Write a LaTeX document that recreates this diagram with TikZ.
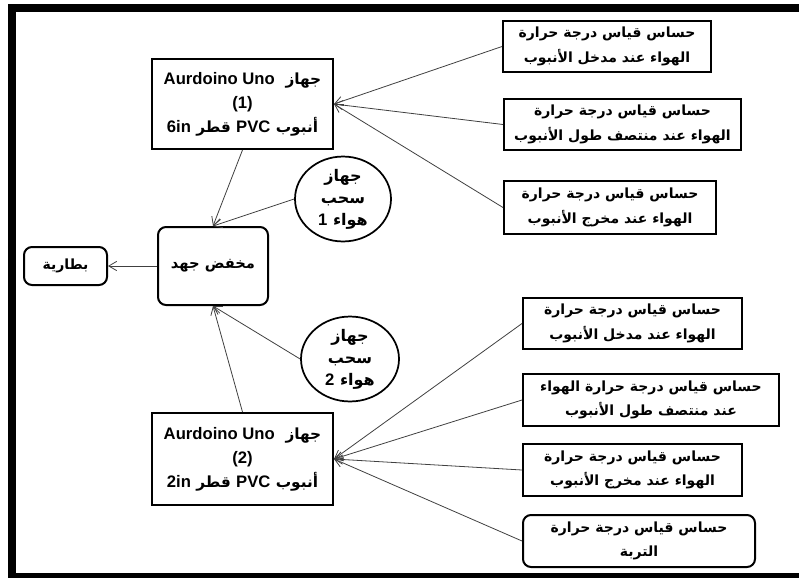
\documentclass[tikz,border=0pt]{standalone}
\usepackage{fontspec}
\setmainfont{Liberation Sans}
\newfontfamily\arabicfont[Script=Arabic]{DejaVu Sans}
\TeXXeTstate=1
\usetikzlibrary{arrows.meta,shapes.geometric}
\newcommand{\arln}[1]{{\arabicfont\bfseries\beginR #1\endR}}
\newcommand{\ltn}[1]{\beginL{\rmfamily\bfseries #1}\endL{}}
\newcommand{\ltbig}[1]{\beginL{\rmfamily\bfseries\fontsize{12.5}{18}\selectfont #1}\endL{}}
\begin{document}
\begin{tikzpicture}[x=0.75pt,y=-0.75pt,
  box/.style={draw=black,line width=1.5pt,align=center,inner sep=0pt,
    font=\fontsize{10.5}{18.5}\selectfont},
  rbox/.style={box,rounded corners=6pt},
  ardbox/.style={box,font=\fontsize{11.5}{18}\selectfont},
  oval/.style={draw=black,line width=1.3pt,ellipse,align=center,inner sep=0pt,
    font=\fontsize{12}{16.5}\selectfont},
  conn/.style={draw=black!75,line width=0.6pt,-{Straight Barb[length=6pt,width=7pt]}},
  frame/.style={fill=black,draw=none}]
\useasboundingbox (0,0) rectangle (799,578);
% outer frame
\fill[frame] (8,4) rectangle (799,12);
\fill[frame] (8,4) rectangle (16,578);
\fill[frame] (8,573) rectangle (799,578);

% Arduino boxes
\node[ardbox,minimum width=181*0.75pt,minimum height=90*0.75pt] (ard1) at (242.5,104)
  {\arln{جهاز \ \ltbig{Aurdoino Uno}}\\ {\bfseries\fontsize{12.5}{18}\selectfont (1)}\\ \arln{أنبوب \ltbig{PVC} قطر \ltbig{6in}}};
\node[ardbox,minimum width=181*0.75pt,minimum height=92*0.75pt] (ard2) at (242.5,459)
  {\arln{جهاز \ \ltbig{Aurdoino Uno}}\\ {\bfseries\fontsize{12.5}{18}\selectfont (2)}\\ \arln{أنبوب \ltbig{PVC} قطر \ltbig{2in}}};

% top sensors
\node[box,minimum width=208*0.75pt,minimum height=51*0.75pt] (s1) at (607,46.5)
  {\arln{حساس قياس درجة حرارة}\\ \arln{الهواء عند مدخل الأنبوب}};
\node[box,minimum width=237*0.75pt,minimum height=51*0.75pt] (s2) at (622.5,124.5)
  {\arln{حساس قياس درجة حرارة}\\ \arln{الهواء عند منتصف طول الأنبوب}};
\node[box,minimum width=212*0.75pt,minimum height=53*0.75pt] (s3) at (610,207.5)
  {\arln{حساس قياس درجة حرارة}\\ \arln{الهواء عند مخرج الأنبوب}};

% bottom sensors
\node[box,minimum width=219*0.75pt,minimum height=51*0.75pt] (b1) at (632.5,323.5)
  {\arln{حساس قياس درجة حرارة}\\ \arln{الهواء عند مدخل الأنبوب}};
\node[box,minimum width=256*0.75pt,minimum height=52*0.75pt] (b2) at (651,400)
  {\arln{حساس قياس درجة حرارة الهواء}\\ \arln{عند منتصف طول الأنبوب}};
\node[box,minimum width=219*0.75pt,minimum height=52*0.75pt] (b3) at (632.5,470)
  {\arln{حساس قياس درجة حرارة}\\ \arln{الهواء عند مخرج الأنبوب}};
\node[rbox,minimum width=232*0.75pt,minimum height=52*0.75pt] (b4) at (639,541)
  {\arln{حساس قياس درجة حرارة}\\ \arln{التربة}};

% reducer and battery
\node[rbox,minimum width=110*0.75pt,minimum height=78*0.75pt,font=\fontsize{11}{16}\selectfont] (red) at (213,266)
  {\arln{مخفض جهد}};
\node[rbox,minimum width=83*0.75pt,minimum height=38*0.75pt] (bat) at (65.5,266)
  {\arln{بطارية}};

% fans
\node[oval,minimum width=96*0.75pt,minimum height=72*0.75pt] (e1) at (343,199)
  {\arln{جهاز}\\ \arln{سحب}\\ \arln{هواء \ltbig{1}}};
\node[oval,minimum width=98*0.75pt,minimum height=84*0.75pt] (e2) at (350,359)
  {\arln{جهاز}\\ \arln{سحب}\\ \arln{هواء \ltbig{2}}};

% connectors
\draw[conn] (s1.west) -- (ard1.east);
\draw[conn] (s2.west) -- (ard1.east);
\draw[conn] (s3.west) -- (ard1.east);
\draw[conn] (b1.west) -- (ard2.east);
\draw[conn] (b2.west) -- (ard2.east);
\draw[conn] (b3.west) -- (ard2.east);
\draw[conn] (b4.west) -- (ard2.east);
\draw[conn] (ard1.south) -- (red.north);
\draw[conn] (e1.west) -- (red.north);
\draw[conn] (ard2.north) -- (red.south);
\draw[conn] (e2.west) -- (red.south);
\draw[conn] (red.west) -- (bat.east);
\end{tikzpicture}
\end{document}
